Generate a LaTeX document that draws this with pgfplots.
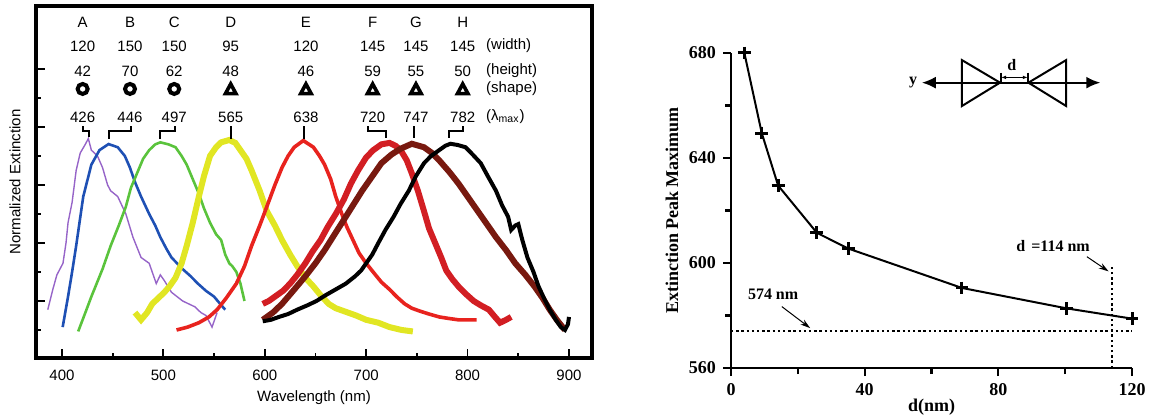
\documentclass[border=0pt]{standalone}
\usepackage{fontspec}
\setmainfont{Liberation Sans}
\newfontfamily\timesf{Liberation Serif}
\usepackage{pgfplots}
\pgfplotsset{compat=1.18}
\usetikzlibrary{arrows.meta}
\definecolor{cA}{RGB}{150,100,200}
\definecolor{cB}{RGB}{30,80,180}
\definecolor{cC}{RGB}{90,195,60}
\definecolor{cD}{RGB}{225,230,35}
\definecolor{cE}{RGB}{232,35,30}
\definecolor{cF}{RGB}{210,30,35}
\definecolor{cG}{RGB}{120,25,15}
\definecolor{cH}{RGB}{0,0,0}
\newcommand{\lf}{\fontsize{7.5}{9}\selectfont}
\newcommand{\rf}{\timesf\bfseries\fontsize{9}{10}\selectfont}
\newcommand{\rfs}{\timesf\bfseries\fontsize{8}{9}\selectfont}
\begin{document}
\begin{tikzpicture}
\path[use as bounding box] (0pt,0pt) rectangle (574.5pt,209pt);
\begin{axis}[
  at={(18pt,30pt)}, anchor=south west, scale only axis,
  width=278pt, height=176pt,
  xmin=374.4, xmax=922.7, ymin=0.034, ymax=12.17,
  axis line style={line width=2pt},
  xtick={400,500,...,900}, minor xtick={450,550,...,850},
  ytick={2,4,...,10}, minor ytick={1,3,...,9}, yticklabels={},
  xtick pos=bottom, ytick pos=left, tick align=inside,
  major tick length=4.5pt, minor tick length=2.5pt,
  every tick/.append style={black, line width=0.9pt},
  /pgf/number format/assume math mode=true,
  tick label style={font=\lf},
  xticklabel style={yshift=-2.5pt},
  xlabel={Wavelength (nm)}, ylabel={Normalized Extinction},
  label style={font=\lf},
  xlabel style={at={(axis description cs:0.5,0)},anchor=center,yshift=-20pt},
  ylabel style={at={(axis description cs:-0.0378,0.5)},anchor=center},
  clip=false,
]
\addplot[cA, line width=0.7pt] coordinates {(386,1.7)(391,2.4)(395,2.9)(398,3.1)(401,3.3)(404,4.0)(406,4.7)(410,5.4)(414,6.5)(418,7.1)(423,7.4)(426,7.6)(429,7.2)(435,7.0)(440,6.6)(445,6.0)(448,5.8)(455,5.6)(463,5.0)(470,4.2)(478,3.5)(486,3.3)(493,2.6)(497,2.9)(501,2.7)(508,2.3)(519,2.0)(525,1.9)(531,1.8)(537,1.6)(542,1.5)(548,1.1)(553,1.6)};
\addplot[cB, line width=1.3pt] coordinates {(400.7,1.1)(406,2.15)(410,3.0)(414,3.9)(421,5.6)(429,6.7)(437,7.2)(446,7.41)(455,7.3)(462,7.0)(467,6.6)(472,6.1)(478,5.6)(486,5.0)(492,4.6)(497,4.2)(503,3.8)(508,3.5)(519,3.1)(527,2.85)(534,2.6)(542,2.35)(550,2.15)(556,1.9)(561,1.7)};
\addplot[cC, line width=1.3pt] coordinates {(416,0.95)(422,1.5)(429,2.15)(440,3.1)(448,3.9)(456,4.6)(463,5.25)(468,5.9)(474,6.4)(480,6.9)(486,7.2)(492,7.4)(497,7.47)(505,7.4)(512,7.3)(518,7.0)(523,6.7)(529,6.2)(535,5.7)(540,5.2)(546,4.7)(552,4.3)(557,4.1)(561,3.6)(565,3.3)(568,3.2)(572,3.0)(576,2.6)(580,2.0)};
\addplot[cD, line width=3pt] coordinates {(472,1.6)(478,1.35)(484,1.6)(489,1.9)(495,2.1)(501,2.3)(506,2.5)(512,2.8)(518,3.3)(523,3.9)(529,4.7)(535,5.6)(540,6.3)(546,7.0)(552,7.3)(557,7.47)(565,7.55)(571,7.45)(576,7.2)(582,6.9)(587,6.5)(595,5.8)(602,5.1)(610,4.6)(617,4.1)(625,3.6)(632,3.2)(640,2.8)(648,2.5)(655,2.2)(663,1.9)(670,1.75)(678,1.65)(690,1.5)(700,1.35)(712,1.25)(723,1.1)(735,1.0)(746,0.95)};
\addplot[cE, line width=1.8pt] coordinates {(513,1.0)(524,1.1)(535,1.25)(545,1.45)(553,1.7)(562,2.1)(572,2.6)(580,3.2)(587,3.9)(595,4.6)(602,5.25)(610,6.0)(617,6.6)(623,7.0)(629,7.3)(638,7.53)(648,7.3)(654,7.0)(659,6.7)(665,6.2)(670,5.6)(676,5.0)(681,4.55)(687,4.1)(693,3.65)(700,3.3)(708,2.95)(715,2.65)(723,2.4)(730,2.15)(738,1.9)(745,1.75)(753,1.65)(762,1.55)(772,1.45)(781,1.4)(791,1.35)(800,1.35)(809,1.35)};
\addplot[cF, line width=3pt] coordinates {(598,1.9)(604,2.0)(610,2.15)(618,2.35)(625,2.6)(632,2.9)(640,3.3)(647,3.7)(655,4.1)(662,4.55)(670,5.0)(678,5.5)(685,6.05)(692,6.5)(700,6.95)(707,7.2)(715,7.4)(723,7.45)(729,7.35)(734,7.2)(740,6.85)(745,6.4)(751,5.8)(757,5.1)(762,4.5)(768,4.0)(774,3.5)(779,3.05)(785,2.75)(791,2.5)(798,2.25)(806,2.0)(813,1.85)(821,1.7)(827,1.45)(832,1.25)(838,1.35)(843,1.45)};
\addplot[cG, line width=3pt] coordinates {(598,1.35)(608,1.6)(617,1.9)(628,2.35)(640,2.85)(650,3.3)(659,3.75)(668,4.25)(678,4.8)(687,5.3)(696,5.8)(706,6.3)(715,6.75)(725,7.05)(734,7.25)(745,7.42)(757,7.3)(765,7.1)(772,6.85)(782,6.45)(791,6.05)(800,5.6)(810,5.1)(819,4.65)(828,4.2)(838,3.75)(847,3.3)(857,2.9)(866,2.5)(874,2.1)(881,1.7)(888,1.35)(896,1.0)};
\addplot[cH, line width=2pt] coordinates {(598,1.3)(606,1.35)(614,1.45)(623,1.55)(632,1.7)(642,1.85)(651,2.0)(660,2.2)(670,2.4)(680,2.6)(689,2.85)(695,3.05)(700,3.3)(706,3.6)(712,4.0)(719,4.45)(727,4.9)(734,5.35)(742,5.8)(749,6.3)(757,6.75)(764,7.0)(772,7.2)(778,7.35)(783,7.42)(790,7.38)(798,7.3)(805,7.05)(813,6.75)(820,6.3)(828,5.8)(834,5.3)(840,4.9)(843,4.45)(847,4.6)(850,4.65)(854,4.1)(859,3.5)(865,3.0)(870,2.5)(876,2.05)(881,1.7)(887,1.35)(892,1.1)(896,1.0)(899,1.2)(900,1.45)};
% annotations
\node[font=\lf, inner sep=0pt] at (axis cs:420.4,11.59) {A};
\node[font=\lf, inner sep=0pt] at (axis cs:467.1,11.59) {B};
\node[font=\lf, inner sep=0pt] at (axis cs:510.7,11.59) {C};
\node[font=\lf, inner sep=0pt] at (axis cs:566.4,11.59) {D};
\node[font=\lf, inner sep=0pt] at (axis cs:640.6,11.59) {E};
\node[font=\lf, inner sep=0pt] at (axis cs:706.4,11.59) {F};
\node[font=\lf, inner sep=0pt] at (axis cs:749.1,11.59) {G};
\node[font=\lf, inner sep=0pt] at (axis cs:795.2,11.59) {H};
\node[font=\lf, inner sep=0pt] at (axis cs:420.4,10.79) {120};
\node[font=\lf, inner sep=0pt] at (axis cs:467.1,10.79) {150};
\node[font=\lf, inner sep=0pt] at (axis cs:510.7,10.79) {150};
\node[font=\lf, inner sep=0pt] at (axis cs:566.4,10.79) {95};
\node[font=\lf, inner sep=0pt] at (axis cs:640.6,10.79) {120};
\node[font=\lf, inner sep=0pt] at (axis cs:706.4,10.79) {145};
\node[font=\lf, inner sep=0pt] at (axis cs:749.1,10.79) {145};
\node[font=\lf, inner sep=0pt] at (axis cs:795.2,10.79) {145};
\node[font=\lf, inner sep=0pt] at (axis cs:420.4,9.93) {42};
\node[font=\lf, inner sep=0pt] at (axis cs:467.1,9.93) {70};
\node[font=\lf, inner sep=0pt] at (axis cs:510.7,9.93) {62};
\node[font=\lf, inner sep=0pt] at (axis cs:566.4,9.93) {48};
\node[font=\lf, inner sep=0pt] at (axis cs:640.6,9.93) {46};
\node[font=\lf, inner sep=0pt] at (axis cs:706.4,9.93) {59};
\node[font=\lf, inner sep=0pt] at (axis cs:749.1,9.93) {55};
\node[font=\lf, inner sep=0pt] at (axis cs:795.2,9.93) {50};
\node[font=\lf, inner sep=0pt] at (axis cs:420.4,8.34) {426};
\node[font=\lf, inner sep=0pt] at (axis cs:467.1,8.34) {446};
\node[font=\lf, inner sep=0pt] at (axis cs:510.7,8.34) {497};
\node[font=\lf, inner sep=0pt] at (axis cs:566.4,8.34) {565};
\node[font=\lf, inner sep=0pt] at (axis cs:640.6,8.34) {638};
\node[font=\lf, inner sep=0pt] at (axis cs:706.4,8.34) {720};
\node[font=\lf, inner sep=0pt] at (axis cs:749.1,8.34) {747};
\node[font=\lf, inner sep=0pt] at (axis cs:795.2,8.34) {782};
\draw[line width=2pt] (axis cs:420.4,9.31) circle[radius=2.5pt];
\draw[line width=2pt] (axis cs:467.1,9.31) circle[radius=2.5pt];
\draw[line width=2pt] (axis cs:510.7,9.31) circle[radius=2.5pt];
\draw[line width=1.8pt, line join=miter] (axis cs:566.4,9.31) ++(-2.6pt,-2.3pt) -- ++(5.2pt,0pt) -- ++(-2.6pt,4.8pt) -- cycle;
\draw[line width=1.8pt, line join=miter] (axis cs:640.6,9.31) ++(-2.6pt,-2.3pt) -- ++(5.2pt,0pt) -- ++(-2.6pt,4.8pt) -- cycle;
\draw[line width=1.8pt, line join=miter] (axis cs:706.4,9.31) ++(-2.6pt,-2.3pt) -- ++(5.2pt,0pt) -- ++(-2.6pt,4.8pt) -- cycle;
\draw[line width=1.8pt, line join=miter] (axis cs:749.1,9.31) ++(-2.6pt,-2.3pt) -- ++(5.2pt,0pt) -- ++(-2.6pt,4.8pt) -- cycle;
\draw[line width=1.8pt, line join=miter] (axis cs:795.2,9.31) ++(-2.6pt,-2.3pt) -- ++(5.2pt,0pt) -- ++(-2.6pt,4.8pt) -- cycle;
\node[font=\lf, inner sep=0pt, anchor=west] at (axis cs:818,10.79) {(width)};
\node[font=\lf, inner sep=0pt, anchor=west] at (axis cs:818,9.93) {(height)};
\node[font=\lf, inner sep=0pt, anchor=west] at (axis cs:818,9.31) {(shape)};
\node[font=\lf, inner sep=0pt, anchor=west] at (axis cs:818,8.34) {(λ\textsubscript{max})};
\draw[line width=1pt] (axis cs:420.4,8.02)--(axis cs:420.4,7.86)--(axis cs:426.5,7.86)--(axis cs:426.5,7.66);
\draw[line width=1pt] (axis cs:467.8,8.02)--(axis cs:467.8,7.86)--(axis cs:446.5,7.86)--(axis cs:446.5,7.6);
\draw[line width=1pt] (axis cs:511.4,8.02)--(axis cs:511.4,7.86)--(axis cs:497,7.86)--(axis cs:497,7.6);
\draw[line width=1pt] (axis cs:566.4,8.02)--(axis cs:566.4,7.6);
\draw[line width=1pt] (axis cs:639,8.02)--(axis cs:639,7.6);
\draw[line width=1pt] (axis cs:702,8.02)--(axis cs:702,7.86)--(axis cs:719.7,7.86)--(axis cs:719.7,7.62);
\draw[line width=1pt] (axis cs:747.5,8.02)--(axis cs:747.5,7.62);
\draw[line width=1pt] (axis cs:795.8,8.02)--(axis cs:795.8,7.86)--(axis cs:782,7.86)--(axis cs:782,7.62);
\end{axis}

\begin{axis}[
  at={(365.5pt,25pt)}, anchor=south west, scale only axis,
  width=200.5pt, height=157.5pt,
  xmin=0, xmax=120, ymin=560, ymax=680,
  axis x line=bottom, axis y line=left, axis line style={-, line width=1.3pt},
  xtick={0,40,80,120}, ytick={560,600,640,680},
  minor xtick={20,60,100}, minor ytick={580,620,660},
  tick align=outside, major tick length=4pt, minor tick length=3pt,
  every tick/.append style={black, line width=1.1pt},
  /pgf/number format/assume math mode=true,
  tick label style={font=\rf},
  xlabel={d(nm)}, ylabel={Extinction Peak Maximum},
  label style={font=\rf},
  xlabel style={at={(axis description cs:0.5,0)},anchor=center,yshift=-19.5pt},
  ylabel style={at={(axis description cs:-0.147,0.5)},anchor=center},
  clip=false, enlargelimits=false,
]
\addplot[black, line width=1pt, mark=+, mark size=3.2pt, mark options={line width=1.5pt}] coordinates {(4,680)(9.2,649.5)(14.1,629.5)(25.7,611.5)(35.1,605.5)(69.1,590.5)(100.5,582.7)(120,578.8)};
\addplot[black, line width=1.1pt, dash pattern=on 1.2pt off 1.4pt] coordinates {(0,574)(120,574)};
\addplot[black, line width=1.1pt, dash pattern=on 1.2pt off 1.4pt] coordinates {(114,560)(114,598.6)};
\draw[-{Stealth[length=5pt,width=3pt]}, line width=0.5pt] (axis cs:15.2,583.4) -- (axis cs:23.7,575.2);
\node[font=\rfs] at (axis cs:12.6,588.2) {574 nm};
\node[font=\rfs] at (axis cs:96.4,606.5) {d\hspace{3pt}=114 nm};
\draw[-{Stealth[length=5pt,width=3pt]}, line width=0.5pt] (axis cs:106.5,602.4) -- (axis cs:113,596.8);
% bowtie
\draw[line width=1pt, {Latex[length=7pt,width=6pt]}-{Latex[length=7pt,width=6pt]}] (axis cs:57.1,668.7) -- (axis cs:110.5,668.7);
\draw[line width=1pt] (axis cs:69.1,677.3) -- (axis cs:69.1,659.8) -- (axis cs:80.5,668.7) -- cycle;
\draw[line width=1pt] (axis cs:100.3,677.3) -- (axis cs:100.3,659.8) -- (axis cs:89,668.7) -- cycle;
\draw[line width=0.8pt] (axis cs:80.8,672.5)--(axis cs:80.8,668.7);
\draw[line width=0.8pt] (axis cs:88.8,672.5)--(axis cs:88.8,668.7);
\draw[line width=0.8pt, {Latex[length=2.5pt]}-{Latex[length=2.5pt]}] (axis cs:80.8,670.7) -- (axis cs:88.8,670.7);
\node[font=\rfs] at (axis cs:84,675.6) {d};
\node[font=\rfs] at (axis cs:54.5,668.6) {y};
\end{axis}
\end{tikzpicture}
\end{document}
